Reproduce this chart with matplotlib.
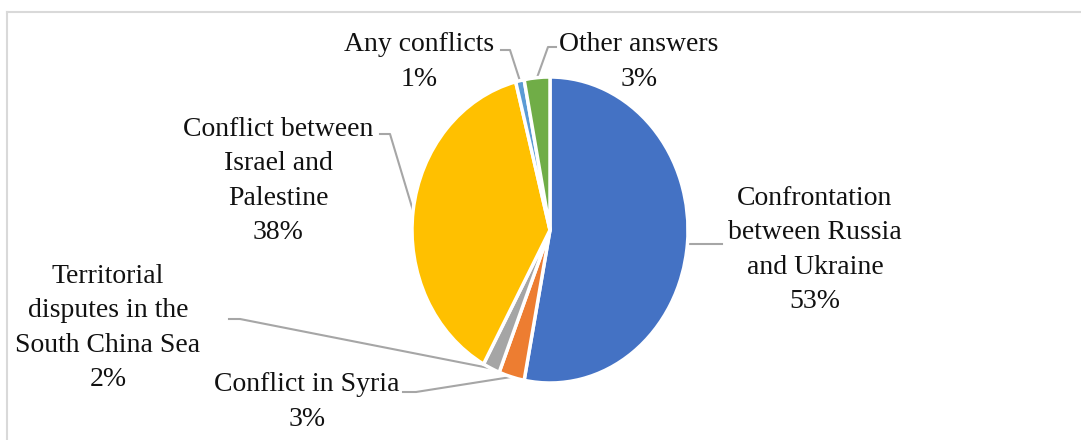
import numpy as np
import matplotlib
matplotlib.use("Agg")
import matplotlib.pyplot as plt

labels = [
    "Confrontation\nbetween Russia\nand Ukraine",
    "Conflict in Syria",
    "Territorial\ndisputes in the\nSouth China Sea",
    "Conflict between\nIsrael and\nPalestine",
    "Any conflicts",
    "Other answers",
]
values = [53, 3, 2, 38, 1, 3]
colors = ["#4472C4", "#ED7D31", "#A5A5A5", "#FFC000", "#5B9BD5", "#70AD47"]

W, H = 1081, 440
# pie geometry in pixels (the original is squeezed horizontally)
CX, CY, RX, RY = 550, 230, 138, 153

# label block centres (pixels, y from top) and leader line elbows
label_pos = [(815, 250), (307, 402), (108, 328), (278, 181), (419, 62), (639, 62)]
elbows = [
    [(722, None)],
    [(403, 392), (416, 392)],
    [(229, 319), (240, 319)],
    [(380, 134), (390, 134)],
    [(501, 50), (510, 50)],
    [(556, 47), (548, 47)],
]

plt.rcParams["font.family"] = ["Liberation Serif", "DejaVu Serif"]

fig = plt.figure(figsize=(W / 100, H / 100), dpi=100)

ax = fig.add_axes([(CX - RX) / W, (H - CY - RY) / H, 2 * RX / W, 2 * RY / H])
ax.pie(values, colors=colors, startangle=90, counterclock=False, radius=1,
       wedgeprops=dict(edgecolor="white", linewidth=2.5))
ax.set_aspect("auto")
ax.set_xlim(-1, 1)
ax.set_ylim(-1, 1)
ax.axis("off")

ov = fig.add_axes([0, 0, 1, 1], zorder=-1)
ov.set_xlim(0, W)
ov.set_ylim(H, 0)
ov.axis("off")

# chart border (only top and left are in frame)
ov.plot([7, W + 5], [12, 12], color="#D9D9D9", lw=1.5)
ov.plot([7, 7], [12, H + 5], color="#D9D9D9", lw=1.5)

total = sum(values)
cum = 0
for lab, v, (lx, ly), elb in zip(labels, values, label_pos, elbows):
    mid = 90 - 360 * (cum + v / 2) / total
    cum += v
    px = CX + RX * np.cos(np.radians(mid))
    py = CY - RY * np.sin(np.radians(mid))
    if elb[0][1] is None:
        xs, ys = [px, elb[0][0]], [py, py]
    else:
        xs = [elb[0][0], elb[1][0], px]
        ys = [elb[0][1], elb[1][1], py]
    ov.plot(xs, ys, color="#A6A6A6", lw=1.5)
    ov.text(lx, ly, f"{lab}\n{v}%", ha="center", va="center", fontsize=20,
            linespacing=1.5, color="#111111")

fig.savefig("out.png", dpi=100)
